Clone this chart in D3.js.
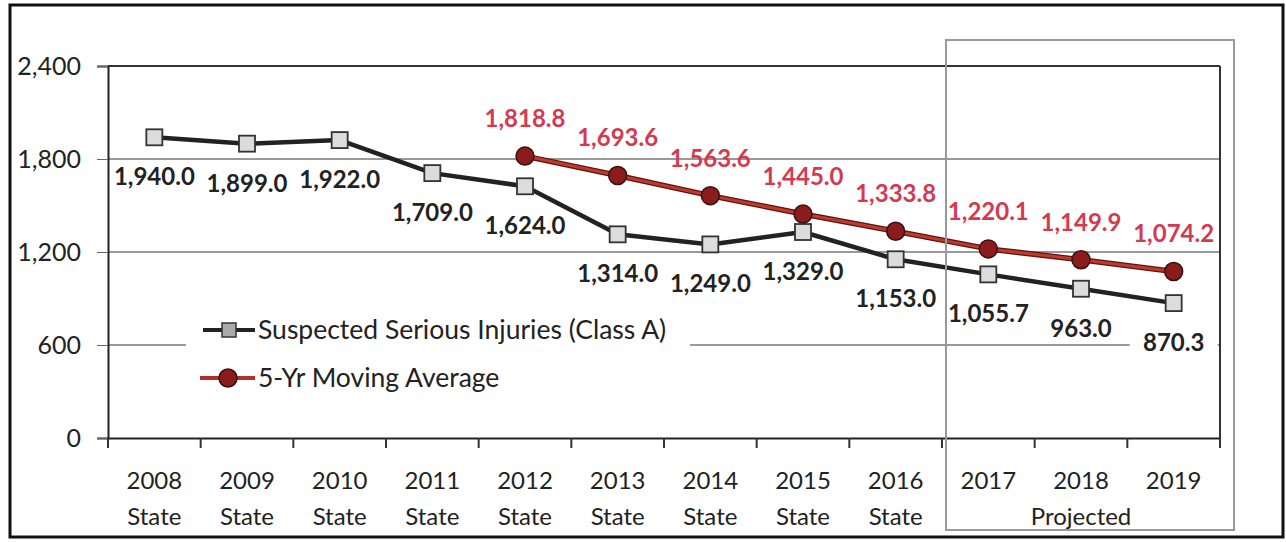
<!DOCTYPE html>
<html>
<head>
<meta charset="utf-8">
<script src="https://cdn.jsdelivr.net/npm/d3@7"></script>
<style>
  body { margin: 0; background: #fff; }
  svg text { font-family: Lato, "Open Sans", sans-serif; }
</style>
</head>
<body>
<div id="vis"></div>
<script>
const years = ["2008", "2009", "2010", "2011", "2012", "2013", "2014", "2015", "2016", "2017", "2018", "2019"];
const subLabels = ["State", "State", "State", "State", "State", "State", "State", "State", "State", "", "", ""];
const injuries = [1940.0, 1899.0, 1922.0, 1709.0, 1624.0, 1314.0, 1249.0, 1329.0, 1153.0, 1055.7, 963.0, 870.3];
const movingAvg = [null, null, null, null, 1818.8, 1693.6, 1563.6, 1445.0, 1333.8, 1220.1, 1149.9, 1074.2];
const yTicks = [0, 600, 1200, 1800, 2400];
const projectedYears = ["2017", "2018", "2019"];

const draw = () => {
	const W = 1286, H = 542;
	const svg = d3.select("#vis").append("svg")
		.attr("width", W)
		.attr("height", H);

	const left = 108, right = 1220, top = 66, bottom = 438;

	const x = d3.scaleBand().domain(years).range([left, right]);
	const y = d3.scaleLinear().domain([0, 2400]).range([bottom, top]);
	const cx = d => x(d) + x.bandwidth() / 2;
	const fmt = d3.format(",.1f");

	// outer frame
	svg.append("rect")
		.attr("x", 10).attr("y", 5)
		.attr("width", 1273).attr("height", 532)
		.attr("fill", "none").attr("stroke", "#111").attr("stroke-width", 3);

	// grid lines
	svg.append("g")
		.selectAll("line")
		.data(yTicks.filter(t => t > 0 && t < 2400))
		.join("line")
		.attr("x1", left).attr("x2", right)
		.attr("y1", d => y(d)).attr("y2", d => y(d))
		.attr("stroke", "#777").attr("stroke-width", 1.3);

	// plot frame top / right
	svg.append("line")
		.attr("x1", left).attr("x2", right)
		.attr("y1", y(2400)).attr("y2", y(2400))
		.attr("stroke", "#333").attr("stroke-width", 2);
	svg.append("line")
		.attr("x1", right).attr("x2", right)
		.attr("y1", y(2400)).attr("y2", y(0))
		.attr("stroke", "#333").attr("stroke-width", 2);

	// y axis
	const yAxis = svg.append("g")
		.attr("transform", `translate(${left},0)`)
		.call(d3.axisLeft(y).tickValues(yTicks).tickSize(11).tickPadding(16).tickFormat(d3.format(",")));
	yAxis.select(".domain").attr("stroke", "#222").attr("stroke-width", 2);
	yAxis.selectAll(".tick line").attr("stroke", "#666");
	yAxis.selectAll("text")
		.attr("font-size", 25).attr("fill", "#222")
		.attr("font-family", "Lato, sans-serif");

	// x axis
	const xAxis = svg.append("g")
		.attr("transform", `translate(0,${bottom})`)
		.call(d3.axisBottom(x).tickSize(0).tickFormat(""));
	xAxis.select(".domain").attr("stroke", "#222").attr("stroke-width", 2);
	svg.append("g")
		.selectAll("line")
		.data(years.concat(["end"]))
		.join("line")
		.attr("x1", (d, i) => left + i * x.bandwidth())
		.attr("x2", (d, i) => left + i * x.bandwidth())
		.attr("y1", bottom).attr("y2", bottom + 10)
		.attr("stroke", "#333").attr("stroke-width", 2);

	svg.append("g")
		.selectAll("text")
		.data(years)
		.join("text")
		.attr("x", d => cx(d))
		.attr("y", 489)
		.attr("text-anchor", "middle")
		.attr("font-size", 24)
		.attr("fill", "#222")
		.text(d => d);
	svg.append("g")
		.selectAll("text")
		.data(years.filter((d, i) => subLabels[i]))
		.join("text")
		.attr("x", d => cx(d))
		.attr("y", 525)
		.attr("text-anchor", "middle")
		.attr("font-size", 24)
		.attr("fill", "#222")
		.text((d, i) => subLabels[i]);
	svg.append("text")
		.attr("x", cx(projectedYears[1]))
		.attr("y", 525)
		.attr("text-anchor", "middle")
		.attr("font-size", 24)
		.attr("fill", "#222")
		.text("Projected");

	// legend
	const legend = svg.append("g");
	legend.append("rect")
		.attr("x", 186).attr("y", 308)
		.attr("width", 504).attr("height", 95)
		.attr("fill", "#fff");
	const lg1 = legend.append("g").attr("transform", "translate(0,330)");
	lg1.append("line").attr("x1", 203).attr("x2", 255).attr("y1", 0).attr("y2", 0)
		.attr("stroke", "#222").attr("stroke-width", 4);
	lg1.append("rect").attr("x", 222).attr("y", -7).attr("width", 14).attr("height", 14)
		.attr("fill", "#aaa").attr("stroke", "#333").attr("stroke-width", 1.5);
	lg1.append("text").attr("x", 258).attr("y", 9)
		.attr("font-size", 26.5).attr("fill", "#222")
		.text("Suspected Serious Injuries (Class A)");
	const lg2 = legend.append("g").attr("transform", "translate(0,378)");
	lg2.append("line").attr("x1", 200).attr("x2", 255).attr("y1", 0).attr("y2", 0)
		.attr("stroke", "#b03030").attr("stroke-width", 4);
	lg2.append("circle").attr("cx", 228).attr("cy", 0).attr("r", 9)
		.attr("fill", "#8b1c1c").attr("stroke", "#3a1010").attr("stroke-width", 1.5);
	lg2.append("text").attr("x", 258).attr("y", 9)
		.attr("font-size", 26.5).attr("fill", "#222")
		.text("5-Yr Moving Average");

	// series 1 line
	const line = d3.line()
		.defined(d => d.v !== null)
		.x(d => cx(d.year))
		.y(d => y(d.v));
	const s1 = years.map((year, i) => ({ year, v: injuries[i] }));
	const s2 = years.map((year, i) => ({ year, v: movingAvg[i] })).filter(d => d.v !== null);

	svg.append("path")
		.datum(s1)
		.attr("d", line)
		.attr("fill", "none")
		.attr("stroke", "#222")
		.attr("stroke-width", 4.5)
		.attr("stroke-linejoin", "round");

	svg.append("g")
		.selectAll("rect")
		.data(s1)
		.join("rect")
		.attr("x", d => cx(d.year) - 8)
		.attr("y", d => y(d.v) - 8)
		.attr("width", 16).attr("height", 16)
		.attr("fill", "#dcdcdc")
		.attr("stroke", "#333").attr("stroke-width", 1.8);

	// series 2 line
	svg.append("path")
		.datum(s2)
		.attr("d", line)
		.attr("fill", "none")
		.attr("stroke", "#5a1515")
		.attr("stroke-width", 5.5);
	svg.append("path")
		.datum(s2)
		.attr("d", line)
		.attr("fill", "none")
		.attr("stroke", "#c0392b")
		.attr("stroke-width", 3);

	svg.append("g")
		.selectAll("circle")
		.data(s2)
		.join("circle")
		.attr("cx", d => cx(d.year))
		.attr("cy", d => y(d.v))
		.attr("r", 9)
		.attr("fill", "#8b1c1c")
		.attr("stroke", "#3a1010").attr("stroke-width", 1.5);

	// data labels, series 1 (below)
	const lab1 = svg.append("g")
		.selectAll("g")
		.data(s1)
		.join("g")
		.attr("transform", d => `translate(${cx(d.year)},${y(d.v) + 40})`);
	lab1.append("rect")
		.attr("x", -44).attr("y", -13)
		.attr("width", 88).attr("height", 26)
		.attr("fill", "#fff")
		.attr("opacity", d => d.v < 1000 ? 1 : 0);
	lab1.append("text")
		.attr("text-anchor", "middle")
		.attr("dy", 8)
		.attr("font-size", 24)
		.attr("font-weight", "bold")
		.attr("fill", "#222")
		.text(d => fmt(d.v));

	// data labels, series 2 (above)
	svg.append("g")
		.selectAll("text")
		.data(s2)
		.join("text")
		.attr("x", d => cx(d.year))
		.attr("y", d => y(d.v) - 37)
		.attr("dy", 8)
		.attr("text-anchor", "middle")
		.attr("font-size", 24)
		.attr("font-weight", "bold")
		.attr("fill", "#d43a4f")
		.text(d => fmt(d.v));

	// projected box
	svg.append("rect")
		.attr("x", x(projectedYears[0]) + 4)
		.attr("y", 40)
		.attr("width", 288)
		.attr("height", 490)
		.attr("fill", "none")
		.attr("stroke", "#999")
		.attr("stroke-width", 2);
};

draw();
</script>
</body>
</html>
